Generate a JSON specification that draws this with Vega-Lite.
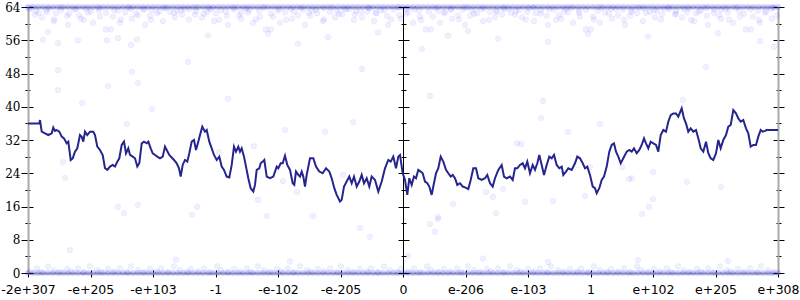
{
"$schema": "https://vega.github.io/schema/vega-lite/v6.json",
"width": 750, "height": 266,
"autosize": {"type": "none"},
"padding": {"left": 28, "top": 7, "right": 22, "bottom": 27},
"background": "white",
"config": {"view": {"stroke": null}, "axis": {"grid": false, "title": null}},
"datasets": {
"edge": [
{"x":0,"y":64},{"x":5,"y":64},{"x":10,"y":64},{"x":15,"y":64},{"x":20,"y":64},{"x":25,"y":64},{"x":30,"y":64},{"x":35,"y":64},{"x":40,"y":64},{"x":45,"y":64},{"x":50,"y":64},{"x":55,"y":64},{"x":60,"y":64},{"x":65,"y":64},{"x":70,"y":64},{"x":75,"y":64},{"x":80,"y":64},{"x":85,"y":64},{"x":90,"y":64},{"x":95,"y":64},{"x":100,"y":64},{"x":105,"y":64},{"x":110,"y":64},{"x":115,"y":64},{"x":120,"y":64},{"x":125,"y":64},{"x":130,"y":64},{"x":135,"y":64},{"x":140,"y":64},{"x":145,"y":64},{"x":150,"y":64},{"x":155,"y":64},{"x":160,"y":64},{"x":165,"y":64},{"x":170,"y":64},{"x":175,"y":64},{"x":180,"y":64},{"x":185,"y":64},{"x":190,"y":64},{"x":195,"y":64},{"x":200,"y":64},{"x":205,"y":64},{"x":210,"y":64},{"x":215,"y":64},{"x":220,"y":64},{"x":225,"y":64},{"x":230,"y":64},{"x":235,"y":64},{"x":240,"y":64},{"x":245,"y":64},{"x":250,"y":64},{"x":255,"y":64},{"x":260,"y":64},{"x":265,"y":64},{"x":270,"y":64},{"x":275,"y":64},{"x":280,"y":64},{"x":285,"y":64},{"x":290,"y":64},{"x":295,"y":64},{"x":300,"y":64},{"x":305,"y":64},{"x":310,"y":64},{"x":315,"y":64},{"x":320,"y":64},{"x":325,"y":64},{"x":330,"y":64},{"x":335,"y":64},{"x":340,"y":64},{"x":345,"y":64},{"x":350,"y":64},{"x":355,"y":64},{"x":360,"y":64},{"x":365,"y":64},{"x":370,"y":64},{"x":375,"y":64},{"x":380,"y":64},{"x":385,"y":64},{"x":390,"y":64},{"x":395,"y":64},{"x":400,"y":64},{"x":405,"y":64},{"x":410,"y":64},{"x":415,"y":64},{"x":420,"y":64},{"x":425,"y":64},{"x":430,"y":64},{"x":435,"y":64},{"x":440,"y":64},{"x":445,"y":64},{"x":450,"y":64},{"x":455,"y":64},{"x":460,"y":64},{"x":465,"y":64},{"x":470,"y":64},{"x":475,"y":64},{"x":480,"y":64},{"x":485,"y":64},{"x":490,"y":64},{"x":495,"y":64},{"x":500,"y":64},{"x":505,"y":64},{"x":510,"y":64},{"x":515,"y":64},{"x":520,"y":64},{"x":525,"y":64},{"x":530,"y":64},{"x":535,"y":64},{"x":540,"y":64},{"x":545,"y":64},{"x":550,"y":64},{"x":555,"y":64},{"x":560,"y":64},{"x":565,"y":64},{"x":570,"y":64},{"x":575,"y":64},{"x":580,"y":64},{"x":585,"y":64},{"x":590,"y":64},{"x":595,"y":64},{"x":600,"y":64},{"x":605,"y":64},{"x":610,"y":64},{"x":615,"y":64},{"x":620,"y":64},{"x":625,"y":64},{"x":630,"y":64},{"x":635,"y":64},{"x":640,"y":64},{"x":645,"y":64},{"x":650,"y":64},{"x":655,"y":64},{"x":660,"y":64},{"x":665,"y":64},{"x":670,"y":64},{"x":675,"y":64},{"x":680,"y":64},{"x":685,"y":64},{"x":690,"y":64},{"x":695,"y":64},{"x":700,"y":64},{"x":705,"y":64},{"x":710,"y":64},{"x":715,"y":64},{"x":720,"y":64},{"x":725,"y":64},{"x":730,"y":64},{"x":735,"y":64},{"x":740,"y":64},{"x":745,"y":64},{"x":750,"y":64},
{"x":0,"y":0},{"x":5,"y":0},{"x":10,"y":0},{"x":15,"y":0},{"x":20,"y":0},{"x":25,"y":0},{"x":30,"y":0},{"x":35,"y":0},{"x":40,"y":0},{"x":45,"y":0},{"x":50,"y":0},{"x":55,"y":0},{"x":60,"y":0},{"x":65,"y":0},{"x":70,"y":0},{"x":75,"y":0},{"x":80,"y":0},{"x":85,"y":0},{"x":90,"y":0},{"x":95,"y":0},{"x":100,"y":0},{"x":105,"y":0},{"x":110,"y":0},{"x":115,"y":0},{"x":120,"y":0},{"x":125,"y":0},{"x":130,"y":0},{"x":135,"y":0},{"x":140,"y":0},{"x":145,"y":0},{"x":150,"y":0},{"x":155,"y":0},{"x":160,"y":0},{"x":165,"y":0},{"x":170,"y":0},{"x":175,"y":0},{"x":180,"y":0},{"x":185,"y":0},{"x":190,"y":0},{"x":195,"y":0},{"x":200,"y":0},{"x":205,"y":0},{"x":210,"y":0},{"x":215,"y":0},{"x":220,"y":0},{"x":225,"y":0},{"x":230,"y":0},{"x":235,"y":0},{"x":240,"y":0},{"x":245,"y":0},{"x":250,"y":0},{"x":255,"y":0},{"x":260,"y":0},{"x":265,"y":0},{"x":270,"y":0},{"x":275,"y":0},{"x":280,"y":0},{"x":285,"y":0},{"x":290,"y":0},{"x":295,"y":0},{"x":300,"y":0},{"x":305,"y":0},{"x":310,"y":0},{"x":315,"y":0},{"x":320,"y":0},{"x":325,"y":0},{"x":330,"y":0},{"x":335,"y":0},{"x":340,"y":0},{"x":345,"y":0},{"x":350,"y":0},{"x":355,"y":0},{"x":360,"y":0},{"x":365,"y":0},{"x":370,"y":0},{"x":375,"y":0},{"x":380,"y":0},{"x":385,"y":0},{"x":390,"y":0},{"x":395,"y":0},{"x":400,"y":0},{"x":405,"y":0},{"x":410,"y":0},{"x":415,"y":0},{"x":420,"y":0},{"x":425,"y":0},{"x":430,"y":0},{"x":435,"y":0},{"x":440,"y":0},{"x":445,"y":0},{"x":450,"y":0},{"x":455,"y":0},{"x":460,"y":0},{"x":465,"y":0},{"x":470,"y":0},{"x":475,"y":0},{"x":480,"y":0},{"x":485,"y":0},{"x":490,"y":0},{"x":495,"y":0},{"x":500,"y":0},{"x":505,"y":0},{"x":510,"y":0},{"x":515,"y":0},{"x":520,"y":0},{"x":525,"y":0},{"x":530,"y":0},{"x":535,"y":0},{"x":540,"y":0},{"x":545,"y":0},{"x":550,"y":0},{"x":555,"y":0},{"x":560,"y":0},{"x":565,"y":0},{"x":570,"y":0},{"x":575,"y":0},{"x":580,"y":0},{"x":585,"y":0},{"x":590,"y":0},{"x":595,"y":0},{"x":600,"y":0},{"x":605,"y":0},{"x":610,"y":0},{"x":615,"y":0},{"x":620,"y":0},{"x":625,"y":0},{"x":630,"y":0},{"x":635,"y":0},{"x":640,"y":0},{"x":645,"y":0},{"x":650,"y":0},{"x":655,"y":0},{"x":660,"y":0},{"x":665,"y":0},{"x":670,"y":0},{"x":675,"y":0},{"x":680,"y":0},{"x":685,"y":0},{"x":690,"y":0},{"x":695,"y":0},{"x":700,"y":0},{"x":705,"y":0},{"x":710,"y":0},{"x":715,"y":0},{"x":720,"y":0},{"x":725,"y":0},{"x":730,"y":0},{"x":735,"y":0},{"x":740,"y":0},{"x":745,"y":0},{"x":750,"y":0}
],
"pts": [
{"x":1,"y":63.5},{"x":7,"y":62.2},{"x":8,"y":63.0},{"x":14,"y":61.5},{"x":19,"y":62.8},{"x":21,"y":63.7},{"x":26,"y":60.6},{"x":28,"y":62.5},{"x":33,"y":63.2},{"x":39,"y":61.9},{"x":40,"y":59.7},{"x":46,"y":63.4},{"x":51,"y":62.0},{"x":53,"y":61.2},{"x":58,"y":63.6},{"x":60,"y":62.7},{"x":65,"y":60.2},{"x":71,"y":63.1},{"x":72,"y":61.7},{"x":78,"y":58.6},
{"x":83,"y":58.6},{"x":85,"y":61.7},{"x":90,"y":63.1},{"x":92,"y":60.2},{"x":97,"y":62.7},{"x":103,"y":63.6},{"x":104,"y":61.2},{"x":110,"y":62.0},{"x":115,"y":63.4},{"x":117,"y":59.7},{"x":122,"y":61.9},{"x":124,"y":63.2},{"x":129,"y":62.5},{"x":135,"y":60.6},{"x":136,"y":63.7},{"x":142,"y":62.8},{"x":147,"y":61.5},{"x":149,"y":63.0},{"x":154,"y":62.2},{"x":156,"y":63.5},
{"x":161,"y":63.5},{"x":167,"y":62.2},{"x":168,"y":63.0},{"x":174,"y":61.5},{"x":179,"y":62.8},{"x":181,"y":63.7},{"x":186,"y":60.6},{"x":188,"y":62.5},{"x":193,"y":63.2},{"x":199,"y":61.9},{"x":200,"y":59.7},{"x":206,"y":63.4},{"x":211,"y":62.0},{"x":213,"y":61.2},{"x":218,"y":63.6},{"x":220,"y":62.7},{"x":225,"y":60.2},{"x":231,"y":63.1},{"x":232,"y":61.7},{"x":238,"y":58.6},
{"x":243,"y":58.6},{"x":245,"y":61.7},{"x":250,"y":63.1},{"x":252,"y":60.2},{"x":257,"y":62.7},{"x":263,"y":63.6},{"x":264,"y":61.2},{"x":270,"y":62.0},{"x":275,"y":63.4},{"x":277,"y":59.7},{"x":282,"y":61.9},{"x":284,"y":63.2},{"x":289,"y":62.5},{"x":295,"y":60.6},{"x":296,"y":63.7},{"x":302,"y":62.8},{"x":307,"y":61.5},{"x":309,"y":63.0},{"x":314,"y":62.2},{"x":316,"y":63.5},
{"x":321,"y":63.5},{"x":327,"y":62.2},{"x":328,"y":63.0},{"x":334,"y":61.5},{"x":339,"y":62.8},{"x":341,"y":63.7},{"x":346,"y":60.6},{"x":348,"y":62.5},{"x":353,"y":63.2},{"x":359,"y":61.9},{"x":360,"y":59.7},{"x":366,"y":63.4},{"x":371,"y":62.0},{"x":373,"y":61.2},{"x":378,"y":63.6},{"x":380,"y":62.7},{"x":385,"y":60.2},{"x":391,"y":63.1},{"x":392,"y":61.7},{"x":398,"y":58.6},
{"x":403,"y":58.6},{"x":405,"y":61.7},{"x":410,"y":63.1},{"x":412,"y":60.2},{"x":417,"y":62.7},{"x":423,"y":63.6},{"x":424,"y":61.2},{"x":430,"y":62.0},{"x":435,"y":63.4},{"x":437,"y":59.7},{"x":442,"y":61.9},{"x":444,"y":63.2},{"x":449,"y":62.5},{"x":455,"y":60.6},{"x":456,"y":63.7},{"x":462,"y":62.8},{"x":467,"y":61.5},{"x":469,"y":63.0},{"x":474,"y":62.2},{"x":476,"y":63.5},
{"x":481,"y":63.5},{"x":487,"y":62.2},{"x":488,"y":63.0},{"x":494,"y":61.5},{"x":499,"y":62.8},{"x":501,"y":63.7},{"x":506,"y":60.6},{"x":508,"y":62.5},{"x":513,"y":63.2},{"x":519,"y":61.9},{"x":520,"y":59.7},{"x":526,"y":63.4},{"x":531,"y":62.0},{"x":533,"y":61.2},{"x":538,"y":63.6},{"x":540,"y":62.7},{"x":545,"y":60.2},{"x":551,"y":63.1},{"x":552,"y":61.7},{"x":558,"y":58.6},
{"x":563,"y":58.6},{"x":565,"y":61.7},{"x":570,"y":63.1},{"x":572,"y":60.2},{"x":577,"y":62.7},{"x":583,"y":63.6},{"x":584,"y":61.2},{"x":590,"y":62.0},{"x":595,"y":63.4},{"x":597,"y":59.7},{"x":602,"y":61.9},{"x":604,"y":63.2},{"x":609,"y":62.5},{"x":615,"y":60.6},{"x":616,"y":63.7},{"x":622,"y":62.8},{"x":627,"y":61.5},{"x":629,"y":63.0},{"x":634,"y":62.2},{"x":636,"y":63.5},
{"x":641,"y":63.5},{"x":647,"y":62.2},{"x":648,"y":63.0},{"x":654,"y":61.5},{"x":659,"y":62.8},{"x":661,"y":63.7},{"x":666,"y":60.6},{"x":668,"y":62.5},{"x":673,"y":63.2},{"x":679,"y":61.9},{"x":680,"y":59.7},{"x":686,"y":63.4},{"x":691,"y":62.0},{"x":693,"y":61.2},{"x":698,"y":63.6},{"x":700,"y":62.7},{"x":705,"y":60.2},{"x":711,"y":63.1},{"x":712,"y":61.7},{"x":718,"y":58.6},
{"x":723,"y":58.6},{"x":725,"y":61.7},{"x":730,"y":63.1},{"x":732,"y":60.2},{"x":737,"y":62.7},{"x":743,"y":63.6},{"x":744,"y":61.2},{"x":749,"y":62.0},
{"x":3,"y":63.8},{"x":11,"y":62.6},{"x":18,"y":63.3},{"x":26,"y":61.0},{"x":33,"y":63.9},{"x":41,"y":62.4},{"x":48,"y":63.5},{"x":56,"y":60.9},{"x":63,"y":62.9},{"x":71,"y":63.8},{"x":78,"y":62.6},{"x":86,"y":63.3},{"x":93,"y":61.0},{"x":101,"y":63.9},{"x":108,"y":62.4},{"x":116,"y":63.5},{"x":123,"y":60.9},{"x":131,"y":62.9},{"x":138,"y":63.8},{"x":146,"y":62.6},{"x":153,"y":63.3},{"x":161,"y":61.0},{"x":168,"y":63.9},{"x":176,"y":62.4},{"x":183,"y":63.5},{"x":191,"y":60.9},{"x":198,"y":62.9},{"x":206,"y":63.8},{"x":213,"y":62.6},{"x":221,"y":63.3},{"x":228,"y":61.0},{"x":236,"y":63.9},{"x":243,"y":62.4},{"x":251,"y":63.5},{"x":258,"y":60.9},{"x":266,"y":62.9},{"x":273,"y":63.8},{"x":281,"y":62.6},{"x":288,"y":63.3},{"x":296,"y":61.0},{"x":303,"y":63.9},{"x":311,"y":62.4},{"x":318,"y":63.5},{"x":326,"y":60.9},{"x":333,"y":62.9},{"x":341,"y":63.8},{"x":348,"y":62.6},{"x":356,"y":63.3},{"x":363,"y":61.0},{"x":371,"y":63.9},{"x":378,"y":62.4},{"x":386,"y":63.5},{"x":393,"y":60.9},{"x":401,"y":62.9},{"x":408,"y":63.8},{"x":416,"y":62.6},{"x":423,"y":63.3},{"x":431,"y":61.0},{"x":438,"y":63.9},{"x":446,"y":62.4},{"x":453,"y":63.5},{"x":461,"y":60.9},{"x":468,"y":62.9},{"x":476,"y":63.8},{"x":483,"y":62.6},{"x":491,"y":63.3},{"x":498,"y":61.0},{"x":506,"y":63.9},{"x":513,"y":62.4},{"x":521,"y":63.5},{"x":528,"y":60.9},{"x":536,"y":62.9},{"x":543,"y":63.8},{"x":551,"y":62.6},{"x":558,"y":63.3},{"x":566,"y":61.0},{"x":573,"y":63.9},{"x":581,"y":62.4},{"x":588,"y":63.5},{"x":596,"y":60.9},{"x":603,"y":62.9},{"x":611,"y":63.8},{"x":618,"y":62.6},{"x":626,"y":63.3},{"x":633,"y":61.0},{"x":641,"y":63.9},{"x":648,"y":62.4},{"x":656,"y":63.5},{"x":663,"y":60.9},{"x":671,"y":62.9},{"x":678,"y":63.8},{"x":686,"y":62.6},{"x":693,"y":63.3},{"x":701,"y":61.0},{"x":708,"y":63.9},{"x":716,"y":62.4},{"x":723,"y":63.5},{"x":731,"y":60.9},{"x":738,"y":62.9},{"x":746,"y":63.8},
{"x":2,"y":0.4},{"x":9,"y":1.1},{"x":13,"y":0.2},{"x":20,"y":1.6},{"x":26,"y":0.7},{"x":32,"y":0.3},{"x":39,"y":1.0},{"x":43,"y":0.4},{"x":50,"y":1.1},{"x":56,"y":0.2},{"x":62,"y":1.6},{"x":69,"y":0.7},{"x":73,"y":0.3},{"x":80,"y":1.0},{"x":86,"y":0.4},{"x":92,"y":1.1},{"x":99,"y":0.2},{"x":103,"y":1.6},{"x":110,"y":0.7},{"x":116,"y":0.3},{"x":122,"y":1.0},{"x":129,"y":0.4},{"x":133,"y":1.1},{"x":140,"y":0.2},{"x":146,"y":1.6},{"x":152,"y":0.7},{"x":159,"y":0.3},{"x":163,"y":1.0},{"x":170,"y":0.4},{"x":176,"y":1.1},{"x":182,"y":0.2},{"x":189,"y":1.6},{"x":193,"y":0.7},{"x":200,"y":0.3},{"x":206,"y":1.0},{"x":212,"y":0.4},{"x":219,"y":1.1},{"x":223,"y":0.2},{"x":230,"y":1.6},{"x":236,"y":0.7},{"x":242,"y":0.3},{"x":249,"y":1.0},{"x":253,"y":0.4},{"x":260,"y":1.1},{"x":266,"y":0.2},{"x":272,"y":1.6},{"x":279,"y":0.7},{"x":283,"y":0.3},{"x":290,"y":1.0},{"x":296,"y":0.4},{"x":302,"y":1.1},{"x":309,"y":0.2},{"x":313,"y":1.6},{"x":320,"y":0.7},{"x":326,"y":0.3},{"x":332,"y":1.0},{"x":339,"y":0.4},{"x":343,"y":1.1},{"x":350,"y":0.2},{"x":356,"y":1.6},{"x":362,"y":0.7},{"x":369,"y":0.3},{"x":373,"y":1.0},{"x":380,"y":0.4},{"x":386,"y":1.1},{"x":392,"y":0.2},{"x":399,"y":1.6},{"x":403,"y":0.7},{"x":410,"y":0.3},{"x":416,"y":1.0},{"x":422,"y":0.4},{"x":429,"y":1.1},{"x":433,"y":0.2},{"x":440,"y":1.6},{"x":446,"y":0.7},{"x":452,"y":0.3},{"x":459,"y":1.0},{"x":463,"y":0.4},{"x":470,"y":1.1},{"x":476,"y":0.2},{"x":482,"y":1.6},{"x":489,"y":0.7},{"x":493,"y":0.3},{"x":500,"y":1.0},{"x":506,"y":0.4},{"x":512,"y":1.1},{"x":519,"y":0.2},{"x":523,"y":1.6},{"x":530,"y":0.7},{"x":536,"y":0.3},{"x":542,"y":1.0},{"x":549,"y":0.4},{"x":553,"y":1.1},{"x":560,"y":0.2},{"x":566,"y":1.6},{"x":572,"y":0.7},{"x":579,"y":0.3},{"x":583,"y":1.0},{"x":590,"y":0.4},{"x":596,"y":1.1},{"x":602,"y":0.2},{"x":609,"y":1.6},{"x":613,"y":0.7},{"x":620,"y":0.3},{"x":626,"y":1.0},{"x":632,"y":0.4},{"x":639,"y":1.1},{"x":643,"y":0.2},{"x":650,"y":1.6},{"x":656,"y":0.7},{"x":662,"y":0.3},{"x":669,"y":1.0},{"x":673,"y":0.4},{"x":680,"y":1.1},{"x":686,"y":0.2},{"x":692,"y":1.6},{"x":699,"y":0.7},{"x":703,"y":0.3},{"x":710,"y":1.0},{"x":716,"y":0.4},{"x":722,"y":1.1},{"x":729,"y":0.2},{"x":733,"y":1.6},{"x":740,"y":0.7},{"x":746,"y":0.3},
{"x":15,"y":56.1},{"x":30,"y":55.3},{"x":50,"y":56},{"x":79,"y":56},{"x":90,"y":56.5},{"x":103,"y":54.9},{"x":109,"y":56.2},{"x":30,"y":48.8},{"x":104,"y":48.4},{"x":110,"y":45.7},{"x":30,"y":44},{"x":80,"y":45},{"x":160,"y":50.8},{"x":20,"y":58},{"x":54,"y":40.9},{"x":99,"y":35.9},{"x":124,"y":39.5},{"x":200,"y":41.9},{"x":35,"y":26.7},{"x":37,"y":22.9},{"x":257,"y":34.4},{"x":297,"y":34},{"x":325,"y":36.3},{"x":191,"y":29.1},{"x":226,"y":30.5},{"x":255,"y":22.1},{"x":315,"y":23.6},{"x":90,"y":15.9},{"x":110,"y":16.4},{"x":169,"y":15.9},{"x":96,"y":14.4},{"x":164,"y":14},{"x":239,"y":13.7},{"x":285,"y":13.7},{"x":230,"y":17.6},{"x":269,"y":19.5},{"x":515,"y":41.4},{"x":513,"y":37.3},{"x":572,"y":35.9},{"x":540,"y":33.9},{"x":489,"y":31.2},{"x":493,"y":31},{"x":655,"y":41.6},{"x":594,"y":25.5},{"x":625,"y":24.3},{"x":601,"y":22.6},{"x":604,"y":22.8},{"x":659,"y":21.9},{"x":693,"y":20.7},{"x":562,"y":25.5},{"x":458,"y":19.5},{"x":465,"y":18.3},{"x":475,"y":20.2},{"x":497,"y":17.1},{"x":525,"y":17.3},{"x":557,"y":18.5},{"x":625,"y":17.8},{"x":425,"y":16.6},{"x":468,"y":14.4},{"x":614,"y":14.2},{"x":621,"y":15.9},{"x":410,"y":13.5},{"x":334,"y":49.1},{"x":394,"y":53.9},{"x":402,"y":42.6},{"x":332,"y":10.8},{"x":342,"y":8.7},{"x":410,"y":13},{"x":402,"y":11.8},{"x":407,"y":9.9},{"x":732,"y":55.8},{"x":678,"y":49.6},{"x":746,"y":54.4},{"x":42,"y":5.5},{"x":148,"y":3.2},{"x":262,"y":2.8},{"x":455,"y":3.5},{"x":520,"y":2.6},{"x":610,"y":3.1},{"x":700,"y":2.9},{"x":380,"y":4.2},{"x":180,"y":57.2},{"x":240,"y":57.6},{"x":300,"y":56.8},{"x":350,"y":57.9},{"x":420,"y":57.1},{"x":470,"y":56.4},{"x":560,"y":57.5},{"x":620,"y":56.9},{"x":690,"y":57.7},{"x":520,"y":55.6},{"x":270,"y":55.2},{"x":440,"y":58.2}
],
"line": [
{"x":0,"y":36},{"x":11.3,"y":36},{"x":12,"y":36.8},{"x":13.7,"y":34},{"x":17,"y":33.6},{"x":20.3,"y":33.2},{"x":23.7,"y":33.6},{"x":25.3,"y":35},{"x":27,"y":34.2},{"x":28.7,"y":34.4},{"x":31.3,"y":34},{"x":33.7,"y":32.8},{"x":36,"y":32.4},{"x":38.7,"y":31.2},{"x":40.3,"y":31.6},{"x":42.7,"y":27.2},{"x":44.7,"y":27.6},{"x":47,"y":29.2},{"x":49.3,"y":30},{"x":52,"y":33.2},{"x":53.7,"y":32.8},{"x":55.3,"y":31.6},{"x":57,"y":34},{"x":59.3,"y":33.2},{"x":62,"y":34},{"x":65.3,"y":34},{"x":67,"y":33.2},{"x":69.3,"y":30.4},{"x":72,"y":29.6},{"x":74.7,"y":28.4},{"x":77,"y":25.2},{"x":79.3,"y":24.8},{"x":82,"y":25.6},{"x":84.7,"y":26},{"x":87,"y":25.6},{"x":89.3,"y":26.8},{"x":91.3,"y":27.6},{"x":93.7,"y":30.8},{"x":96,"y":31.6},{"x":98,"y":28.8},{"x":100.3,"y":30},{"x":102,"y":28.4},{"x":104.7,"y":28},{"x":107,"y":27.6},{"x":109.3,"y":25.6},{"x":111.3,"y":26.4},{"x":113.7,"y":31.2},{"x":116,"y":31.6},{"x":118.7,"y":31.2},{"x":120.3,"y":31.6},{"x":122.7,"y":30},{"x":124.7,"y":28.8},{"x":127,"y":28.4},{"x":129.3,"y":28},{"x":132,"y":27.6},{"x":134.7,"y":28},{"x":137,"y":30.4},{"x":138.7,"y":29.6},{"x":141.3,"y":28.4},{"x":143.7,"y":27.8},{"x":146,"y":27.2},{"x":148.7,"y":26.4},{"x":151,"y":25.2},{"x":152.7,"y":23.2},{"x":154.7,"y":26},{"x":157,"y":27.2},{"x":159.3,"y":26.8},{"x":161.3,"y":28.8},{"x":163.7,"y":31.6},{"x":166,"y":32},{"x":168,"y":29.6},{"x":170.3,"y":31.6},{"x":172,"y":33.2},{"x":174.3,"y":35.2},{"x":177,"y":34},{"x":178.7,"y":34.4},{"x":181.3,"y":31.6},{"x":183.7,"y":30},{"x":186,"y":28.4},{"x":188.7,"y":27.2},{"x":191.3,"y":28},{"x":193.7,"y":25.6},{"x":196,"y":24.8},{"x":198.7,"y":23.2},{"x":201.3,"y":23},{"x":203.7,"y":26},{"x":206,"y":30.4},{"x":208,"y":29.2},{"x":210.3,"y":30.4},{"x":212,"y":29.2},{"x":213.7,"y":30},{"x":216,"y":28},{"x":218,"y":25.6},{"x":220.3,"y":22.8},{"x":222.7,"y":20.4},{"x":225.3,"y":19.6},{"x":227,"y":21.2},{"x":228.7,"y":24.8},{"x":231.3,"y":25.2},{"x":232.7,"y":26.4},{"x":234.7,"y":26.8},{"x":236.3,"y":27.2},{"x":238.7,"y":23.2},{"x":242,"y":22.8},{"x":245.3,"y":23.2},{"x":248.7,"y":25.6},{"x":250.3,"y":25.2},{"x":252.7,"y":26.4},{"x":254.7,"y":26.4},{"x":257,"y":28.2},{"x":259.3,"y":26},{"x":262,"y":24.8},{"x":264.7,"y":21.6},{"x":266.3,"y":21.2},{"x":268,"y":24.4},{"x":270.3,"y":23.6},{"x":272,"y":23.2},{"x":273.7,"y":24.4},{"x":275.3,"y":23.2},{"x":277,"y":20.8},{"x":278.7,"y":23.6},{"x":282,"y":27.6},{"x":285.3,"y":27.6},{"x":288,"y":25.6},{"x":291.3,"y":24.4},{"x":294.7,"y":24},{"x":298,"y":25.2},{"x":301.3,"y":24.4},{"x":303.7,"y":22.8},{"x":306.3,"y":20.4},{"x":308.7,"y":18.8},{"x":312,"y":17.2},{"x":313.7,"y":17.6},{"x":316,"y":20.8},{"x":318.7,"y":22},{"x":321.3,"y":23.2},{"x":323.7,"y":21.6},{"x":326,"y":23.2},{"x":328.7,"y":20.8},{"x":331.3,"y":22},{"x":333.7,"y":23.6},{"x":336,"y":21.6},{"x":338.7,"y":22.8},{"x":341.3,"y":20.8},{"x":343.7,"y":23.2},{"x":347,"y":22.4},{"x":350.3,"y":19.6},{"x":353.7,"y":22},{"x":357,"y":25.2},{"x":360.3,"y":27.2},{"x":362.7,"y":26.8},{"x":365.3,"y":28},{"x":368,"y":25.2},{"x":370.3,"y":28},{"x":372,"y":28.4},
{"x":374.7,"y":24},{"x":377,"y":22.4},{"x":379.3,"y":18.8},{"x":381.3,"y":22.8},{"x":383.7,"y":21.2},{"x":386,"y":23.2},{"x":388,"y":22.8},{"x":390.3,"y":24.8},{"x":392.7,"y":24.4},{"x":394.7,"y":24},{"x":397,"y":22},{"x":399.3,"y":21.6},{"x":401.3,"y":20.8},{"x":403.7,"y":18.8},{"x":405.3,"y":20.8},{"x":408,"y":24},{"x":410.3,"y":25.2},{"x":412.7,"y":28},{"x":415.3,"y":26.8},{"x":418,"y":24.8},{"x":420.3,"y":24},{"x":422.7,"y":23.2},{"x":424.7,"y":23.6},{"x":427,"y":22.8},{"x":429.3,"y":21.2},{"x":432,"y":21.6},{"x":434.7,"y":20.8},{"x":437,"y":20.6},{"x":440.3,"y":20.2},{"x":442.7,"y":22.4},{"x":445.3,"y":25.2},{"x":448,"y":25.2},{"x":450.3,"y":22.8},{"x":453.7,"y":22.4},{"x":457,"y":22.8},{"x":459.3,"y":23.6},{"x":462,"y":21.6},{"x":464.7,"y":20.8},{"x":467,"y":22.8},{"x":470.3,"y":24.8},{"x":473.7,"y":26},{"x":476,"y":23.2},{"x":478.7,"y":22.8},{"x":482,"y":23.2},{"x":484.7,"y":22.4},{"x":487,"y":25.2},{"x":489.3,"y":25.2},{"x":492,"y":26},{"x":494.7,"y":26.4},{"x":497,"y":25.2},{"x":499.3,"y":26.8},{"x":502,"y":24},{"x":504.7,"y":26},{"x":507,"y":24.8},{"x":509.3,"y":26.4},{"x":511.3,"y":28.4},{"x":513.7,"y":26},{"x":516,"y":23.6},{"x":518.7,"y":26},{"x":521.3,"y":28},{"x":523.7,"y":27.6},{"x":526,"y":28.4},{"x":528.7,"y":26},{"x":531.3,"y":25.2},{"x":533.7,"y":25.6},{"x":535.3,"y":23.6},{"x":538,"y":24.4},{"x":540.3,"y":25.2},{"x":543.7,"y":24.8},{"x":547,"y":26.4},{"x":549.3,"y":28},{"x":552,"y":27.6},{"x":554.7,"y":26.4},{"x":557,"y":25.2},{"x":559.3,"y":25.6},{"x":562,"y":23.6},{"x":564.7,"y":20.8},{"x":567,"y":20.4},{"x":568.7,"y":19.2},{"x":571.3,"y":20.4},{"x":573.7,"y":22.4},{"x":576,"y":23.2},{"x":578.7,"y":25.6},{"x":581.3,"y":29.2},{"x":583.7,"y":30.8},{"x":586,"y":31.2},{"x":588,"y":29.2},{"x":590.3,"y":28},{"x":592.7,"y":26.4},{"x":595.3,"y":27.6},{"x":598.7,"y":29.2},{"x":601.3,"y":29.6},{"x":603.7,"y":29.2},{"x":606,"y":30},{"x":608.7,"y":28.8},{"x":611.3,"y":29.6},{"x":613.7,"y":30.8},{"x":616,"y":32.4},{"x":618,"y":31.2},{"x":620.3,"y":30},{"x":622.7,"y":31.6},{"x":625.3,"y":31.2},{"x":628,"y":30.8},{"x":630.3,"y":29.2},{"x":632.7,"y":33.2},{"x":635.3,"y":34.4},{"x":638,"y":34},{"x":640.3,"y":36.4},{"x":642.7,"y":38},{"x":645.3,"y":38.4},{"x":648,"y":38.4},{"x":650.3,"y":37.6},{"x":653.7,"y":39.6},{"x":656,"y":37.2},{"x":658,"y":36},{"x":660.3,"y":34},{"x":662.7,"y":34.8},{"x":665.3,"y":34},{"x":668,"y":34.4},{"x":670.3,"y":32.4},{"x":672.7,"y":30},{"x":675.3,"y":29.2},{"x":678,"y":31.6},{"x":680.3,"y":28.8},{"x":682.7,"y":27.6},{"x":685.3,"y":27.2},{"x":688,"y":28.8},{"x":690.3,"y":32},{"x":692.7,"y":30},{"x":695.3,"y":32},{"x":698,"y":33.2},{"x":700.3,"y":35.2},{"x":702.7,"y":35.6},{"x":705.3,"y":39.2},{"x":708,"y":38.4},{"x":710.3,"y":37.2},{"x":712.7,"y":36.4},{"x":715.3,"y":36.8},{"x":718,"y":34.8},{"x":720.3,"y":33.6},{"x":722.7,"y":30.4},{"x":725.3,"y":30.8},{"x":728,"y":30.8},{"x":730.3,"y":32.8},{"x":732.7,"y":34.4},{"x":734.7,"y":34},{"x":737,"y":34.2},{"x":738.7,"y":34.4},{"x":750,"y":34.4}
]
},
"resolve": {"axis": {"x": "independent", "y": "independent"}},
"layer": [
{
"data": {"name": "edge"},
"mark": {"type": "circle", "size": 36, "color": "#0000ff", "opacity": 0.18},
"encoding": {
"x": {"field": "x", "type": "quantitative", "scale": {"domain": [0, 750], "nice": false, "zero": false},
"axis": {"orient": "bottom", "values": [0, 62.5, 125, 187.5, 250, 312.5, 375, 437.5, 500, 562.5, 625, 687.5, 750],
"labelExpr": "['-2e+307','-e+205','-e+103','-1','-e-102','-e-205','0','e-206','e-103','1','e+102','e+205','e+308'][round(datum.value/62.5)]",
"domainColor": "#a9a9a9", "domainWidth": 2, "tickColor": "#000000", "tickWidth": 1, "tickSize": 4,
"labelFont": "DejaVu Sans", "labelFontSize": 12.5, "labelColor": "#000000", "labelPadding": 6,
"labelFlush": false, "labelOverlap": false, "labelBound": false,
"encoding": {"ticks": {"y": {"value": -3}, "y2": {"value": 4}}}}},
"y": {"field": "y", "type": "quantitative", "scale": {"domain": [0, 64], "nice": false, "zero": false},
"axis": {"orient": "left", "values": [0,4,8,12,16,20,24,28,32,36,40,44,48,52,56,60,64],
"labelExpr": "datum.value % 8 === 0 ? datum.value : ''",
"domainColor": "#a9a9a9", "domainWidth": 2, "tickColor": "#000000", "tickWidth": 1, "tickSize": 6, "labelPadding": 2,
"labelFont": "DejaVu Serif", "labelFontSize": 12, "labelColor": "#000000", "labelOverlap": false, "labelFlush": false,
"encoding": {"ticks": {"x": {"value": {"expr": "datum.value % 8 === 0 ? 5 : 2"}}, "x2": {"value": {"expr": "datum.value % 8 === 0 ? -7 : -3"}}}}}}
}
},
{
"data": {"name": "pts"},
"mark": {"type": "circle", "size": 32, "fill": "#0000ff", "fillOpacity": 0.06, "stroke": "#0000ff", "strokeOpacity": 0.06, "strokeWidth": 0.8},
"encoding": {
"x": {"field": "x", "type": "quantitative", "scale": {"domain": [0, 750], "nice": false, "zero": false},
"axis": {"orient": "top", "domainColor": "#a9a9a9", "domainWidth": 2, "ticks": false, "labels": false}},
"y": {"field": "y", "type": "quantitative", "scale": {"domain": [0, 64], "nice": false, "zero": false},
"axis": {"orient": "right", "values": [0,4,8,12,16,20,24,28,32,36,40,44,48,52,56,60,64], "labels": false,
"domainColor": "#a9a9a9", "domainWidth": 2, "tickColor": "#000000", "tickWidth": 1, "tickSize": 6,
"encoding": {"ticks": {"x": {"value": {"expr": "datum.value % 8 === 0 ? -5 : -2"}}, "x2": {"value": {"expr": "datum.value % 8 === 0 ? 6 : 3"}}}}}}
}
},
{
"data": {"name": "line"},
"mark": {"type": "line", "color": "#25258e", "strokeWidth": 2},
"encoding": {
"x": {"field": "x", "type": "quantitative", "scale": {"domain": [0, 750], "nice": false, "zero": false}, "axis": null},
"y": {"field": "y", "type": "quantitative", "scale": {"domain": [0, 64], "nice": false, "zero": false},
"axis": {"orient": "left", "offset": -375, "values": [0,4,8,12,16,20,24,28,32,36,40,44,48,52,56,60,64], "labels": false,
"domainColor": "#000000", "domainWidth": 1, "tickColor": "#000000", "tickWidth": 1, "tickSize": 6,
"encoding": {"ticks": {"x": {"value": {"expr": "datum.value % 8 === 0 ? 6 : 3"}}, "x2": {"value": {"expr": "datum.value % 8 === 0 ? -5 : -2"}}}}}}
}
}
]
}
